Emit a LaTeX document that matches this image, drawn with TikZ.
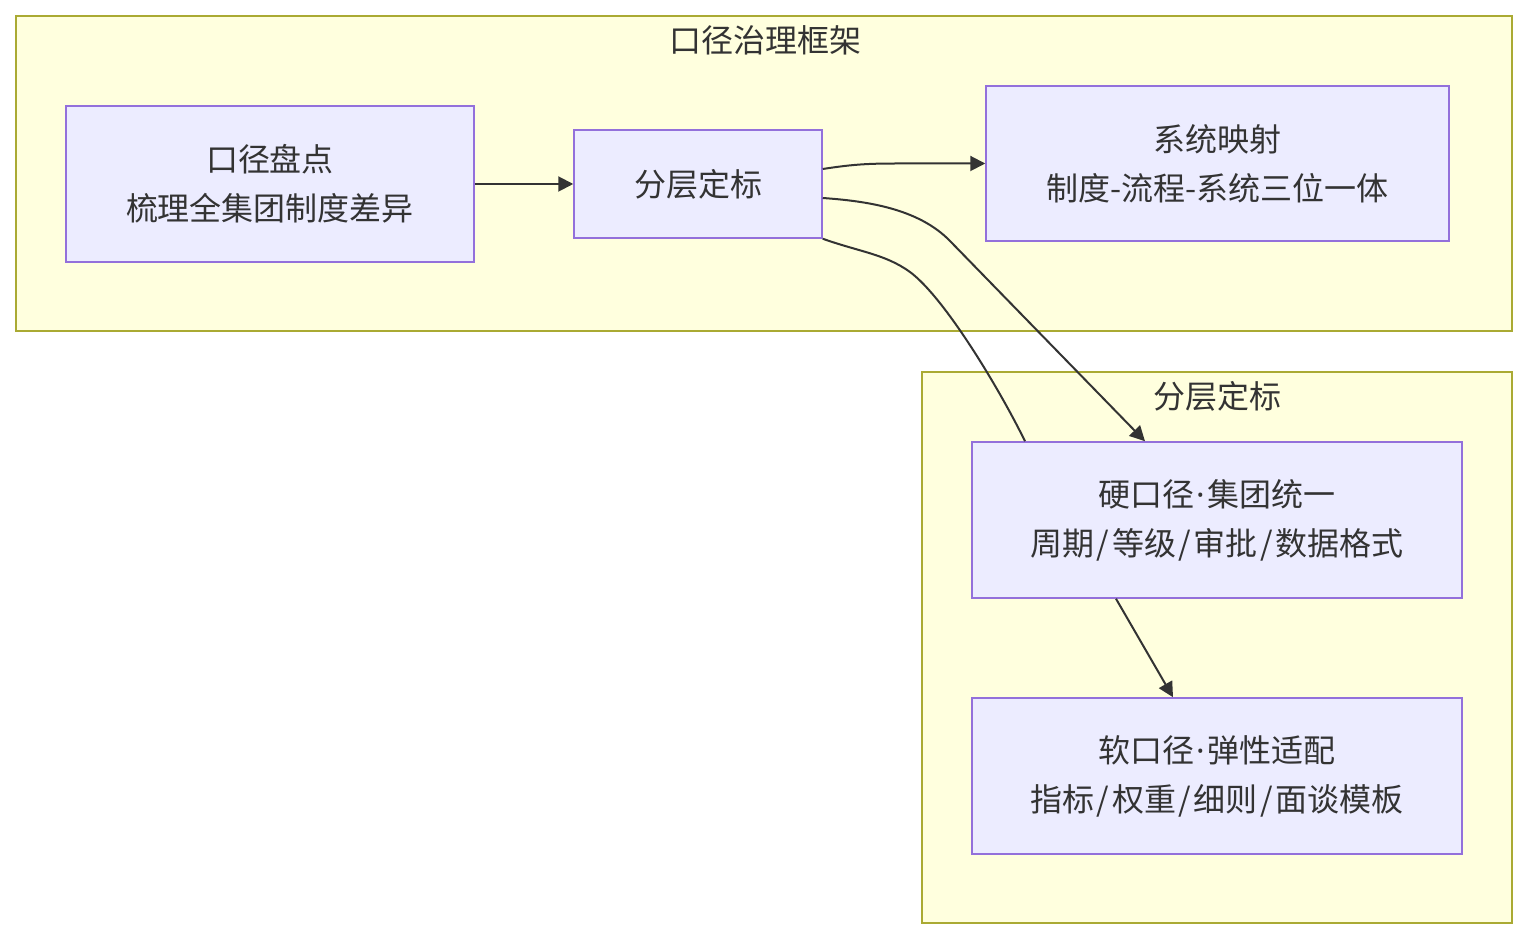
\documentclass[tikz,border=0pt]{standalone}
\usepackage{fontspec}
\setmainfont{Noto Sans CJK SC}
\newfontfamily\latinf{Noto Sans}
\newcommand{\mdot}{{\latinf\kern1.1pt·\kern1.1pt}}
\newcommand{\slsh}{\kern1.35pt/\kern1.35pt}
\usetikzlibrary{arrows.meta}
\definecolor{clfill}{HTML}{FFFFDE}
\definecolor{clline}{HTML}{AAAA33}
\definecolor{ndfill}{HTML}{ECECFF}
\definecolor{ndline}{HTML}{9370DB}
\definecolor{txt}{HTML}{333333}
\begin{document}
\begin{tikzpicture}[x=0.5pt,y=-0.5pt,
  cluster/.style={draw=clline, fill=clfill, line width=0.75pt},
  box/.style={draw=ndline, fill=ndfill, line width=0.75pt, inner sep=0pt, align=center, text=txt, font=\fontsize{16pt}{24.5pt}\selectfont},
  ttl/.style={text=txt, font=\fontsize{16pt}{24.5pt}\selectfont, inner sep=0pt},
  edge/.style={draw=txt, line width=1pt, -{Triangle[length=7.5pt,width=7.5pt]}},
  plainedge/.style={draw=txt, line width=1pt}]
\useasboundingbox (0,0) rectangle (1528,940);
\fill[white] (0,0) rectangle (1528,940);
\draw[cluster] (16,16) rectangle (1512,331);
\node[ttl] (t1) at (765,40) {口径治理框架};
\draw[cluster] (922,372) rectangle (1512,923);
\node[ttl] (t2) at (1217,396) {分层定标};
\node[box, minimum width=204pt, minimum height=78pt] (A) at (270,184) {口径盘点\\梳理全集团制度差异};
\node[box, minimum width=124pt, minimum height=54pt] (B) at (698,184) {分层定标};
\node[box, minimum width=231.5pt, minimum height=77.5pt] (C) at (1217.5,163.5) {系统映射\\制度-流程-系统三位一体};
\node[box, minimum width=245pt, minimum height=78pt] (D) at (1217,520) {硬口径\mdot 集团统一\\周期\slsh 等级\slsh 审批\slsh 数据格式};
\node[box, minimum width=245pt, minimum height=78pt] (E) at (1217,776) {软口径\mdot 弹性适配\\指标\slsh 权重\slsh 细则\slsh 面谈模板};
\draw[edge] (A.east) -- (B.west);
\draw[edge] ([yshift=7.5pt]B.east) .. controls (855,164) and (870,163.5) .. (900,163.5) -- (C.west);
\draw[edge] ([yshift=-7pt]B.east) .. controls (865,201) and (918,208) .. (950,241) -- ([xshift=-36pt]D.north);
\draw[plainedge] (B.south east) .. controls (860,252) and (885,254) .. (910,272) .. controls (945,298) and (1000,390) .. ([xshift=-96pt]D.north);
\draw[edge] ([xshift=-50.5pt]D.south) -- ([xshift=-22pt]E.north);
\end{tikzpicture}
\end{document}
